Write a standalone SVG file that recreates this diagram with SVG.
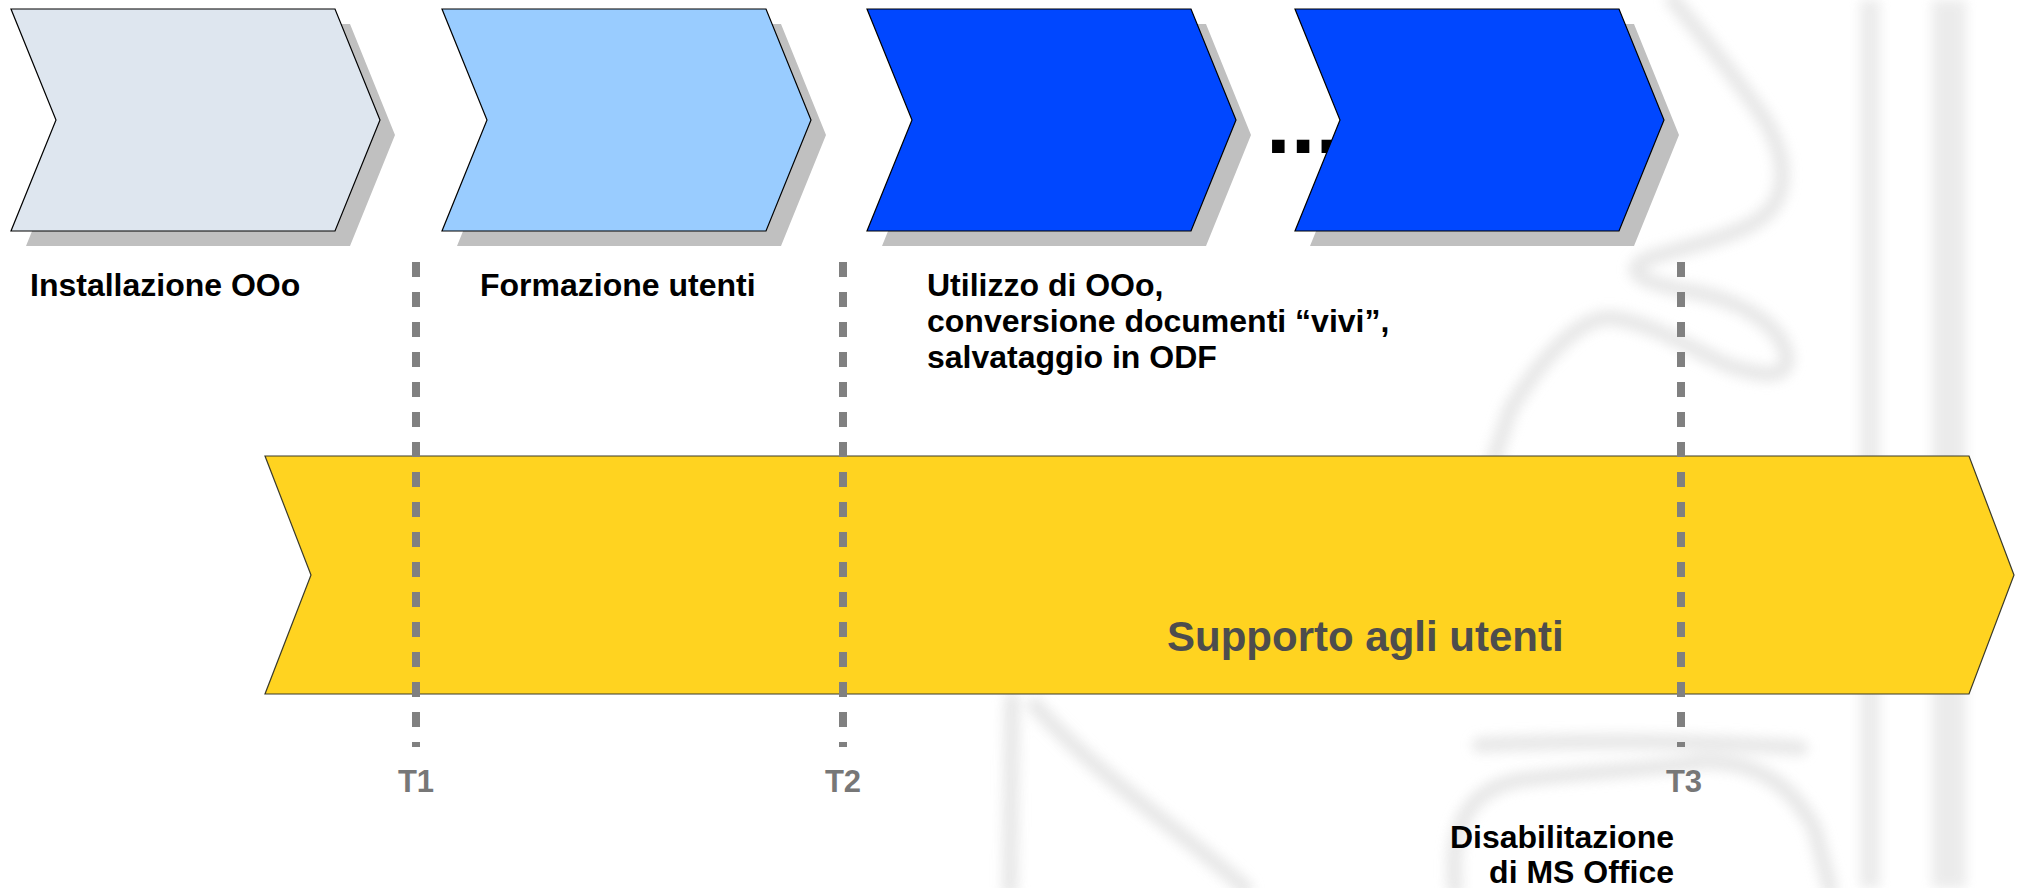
<svg xmlns="http://www.w3.org/2000/svg" width="2025" height="888" viewBox="0 0 2025 888">
  <style>
    .shadow { fill: #c0c0c0; }
    .chev { stroke: #000; stroke-width: 1.2; stroke-linejoin: miter; }
    .lbl { font-family: "Liberation Sans", Arial, sans-serif; font-weight: bold; font-size: 32px; fill: #000; }
    .tlbl { font-family: "Liberation Sans", Arial, sans-serif; font-weight: bold; font-size: 31px; fill: #777; text-anchor: middle; }
    .tline { stroke: #808080; stroke-width: 8; stroke-dasharray: 15 15; fill: none; }
    .wm { fill: none; stroke: #e4e4e4; stroke-width: 16; stroke-linecap: round; stroke-linejoin: round; }
  </style>
  <defs>
    <filter id="blur" x="-10%" y="-10%" width="120%" height="120%">
      <feGaussianBlur stdDeviation="6"/>
    </filter>
    <polygon id="chevShape" points="0,0 324,0 369,111 324,222 0,222 45,111"/>
  </defs>
  <rect width="2025" height="888" fill="#fff"/>

  <!-- watermark background -->
  <g id="watermark" filter="url(#blur)" opacity="0.85">
    <rect x="1860" y="0" width="20" height="888" fill="#e8e8e8"/>
    <rect x="1932" y="0" width="34" height="888" fill="#e8e8e8"/>
    <path class="wm" d="M1673,0 C1700,33 1745,90 1765,120 C1785,155 1790,190 1767,213 C1745,235 1690,245 1650,258 C1625,268 1630,282 1700,293 C1750,305 1785,330 1787,360 C1785,380 1760,375 1733,367 C1700,355 1660,325 1613,318 C1580,315 1540,360 1510,410 L1495,456"/>
    <path class="wm" d="M1012,700 L1010,888"/>
    <path class="wm" d="M1035,705 C1090,770 1180,830 1245,888"/>
    <path class="wm" d="M1455,888 C1450,830 1465,790 1520,780 C1580,772 1650,770 1700,762 C1750,760 1790,780 1815,830 L1830,888"/>
    <path class="wm" d="M1480,745 C1580,740 1700,740 1800,748"/>
  </g>

  <!-- ellipsis beneath chevron 4 -->
  <text id="ellipsis" x="1266" y="153" style="font-family:'Liberation Sans',Arial,sans-serif;font-weight:bold;font-size:89px;fill:#000">...</text>

  <g id="step1">
    <use href="#chevShape" class="shadow" x="26" y="24"/>
    <use href="#chevShape" class="chev" x="11" y="9" fill="#dee6ef"/>
  </g>
  <g id="step2">
    <use href="#chevShape" class="shadow" x="457" y="24"/>
    <use href="#chevShape" class="chev" x="442" y="9" fill="#99ccff"/>
  </g>
  <g id="step3">
    <use href="#chevShape" class="shadow" x="882" y="24"/>
    <use href="#chevShape" class="chev" x="867" y="9" fill="#0047ff"/>
  </g>
  <g id="step4">
    <use href="#chevShape" class="shadow" x="1310" y="24"/>
    <use href="#chevShape" class="chev" x="1295" y="9" fill="#0047ff"/>
  </g>

  <g id="labels">
    <text class="lbl" x="30" y="296">Installazione OOo</text>
    <text class="lbl" x="480" y="296">Formazione utenti</text>
    <text class="lbl" x="927" y="296">Utilizzo di OOo,</text>
    <text class="lbl" x="927" y="332">conversione documenti “vivi”,</text>
    <text class="lbl" x="927" y="368">salvataggio in ODF</text>
  </g>

  <g id="support">
    <polygon points="265,456 1969,456 2014,575 1969,694 265,694 311,575" fill="#ffd320" stroke="#3a3a2a" stroke-width="1.2"/>
    <text x="1167" y="651" style="font-family:'Liberation Sans',Arial,sans-serif;font-weight:bold;font-size:42px;fill:#4d4d4d">Supporto agli utenti</text>
  </g>

  <g id="connectors">
    <line class="tline" x1="416" y1="262" x2="416" y2="747"/>
    <line class="tline" x1="843" y1="262" x2="843" y2="747"/>
    <line class="tline" x1="1681" y1="262" x2="1681" y2="747"/>
  </g>

  <g id="milestones">
    <text class="tlbl" x="416" y="792">T1</text>
    <text class="tlbl" x="843" y="792">T2</text>
    <text class="tlbl" x="1684" y="792">T3</text>
    <text class="lbl" x="1674" y="848" text-anchor="end">Disabilitazione</text>
    <text class="lbl" x="1674" y="883" text-anchor="end">di MS Office</text>
  </g>
</svg>
